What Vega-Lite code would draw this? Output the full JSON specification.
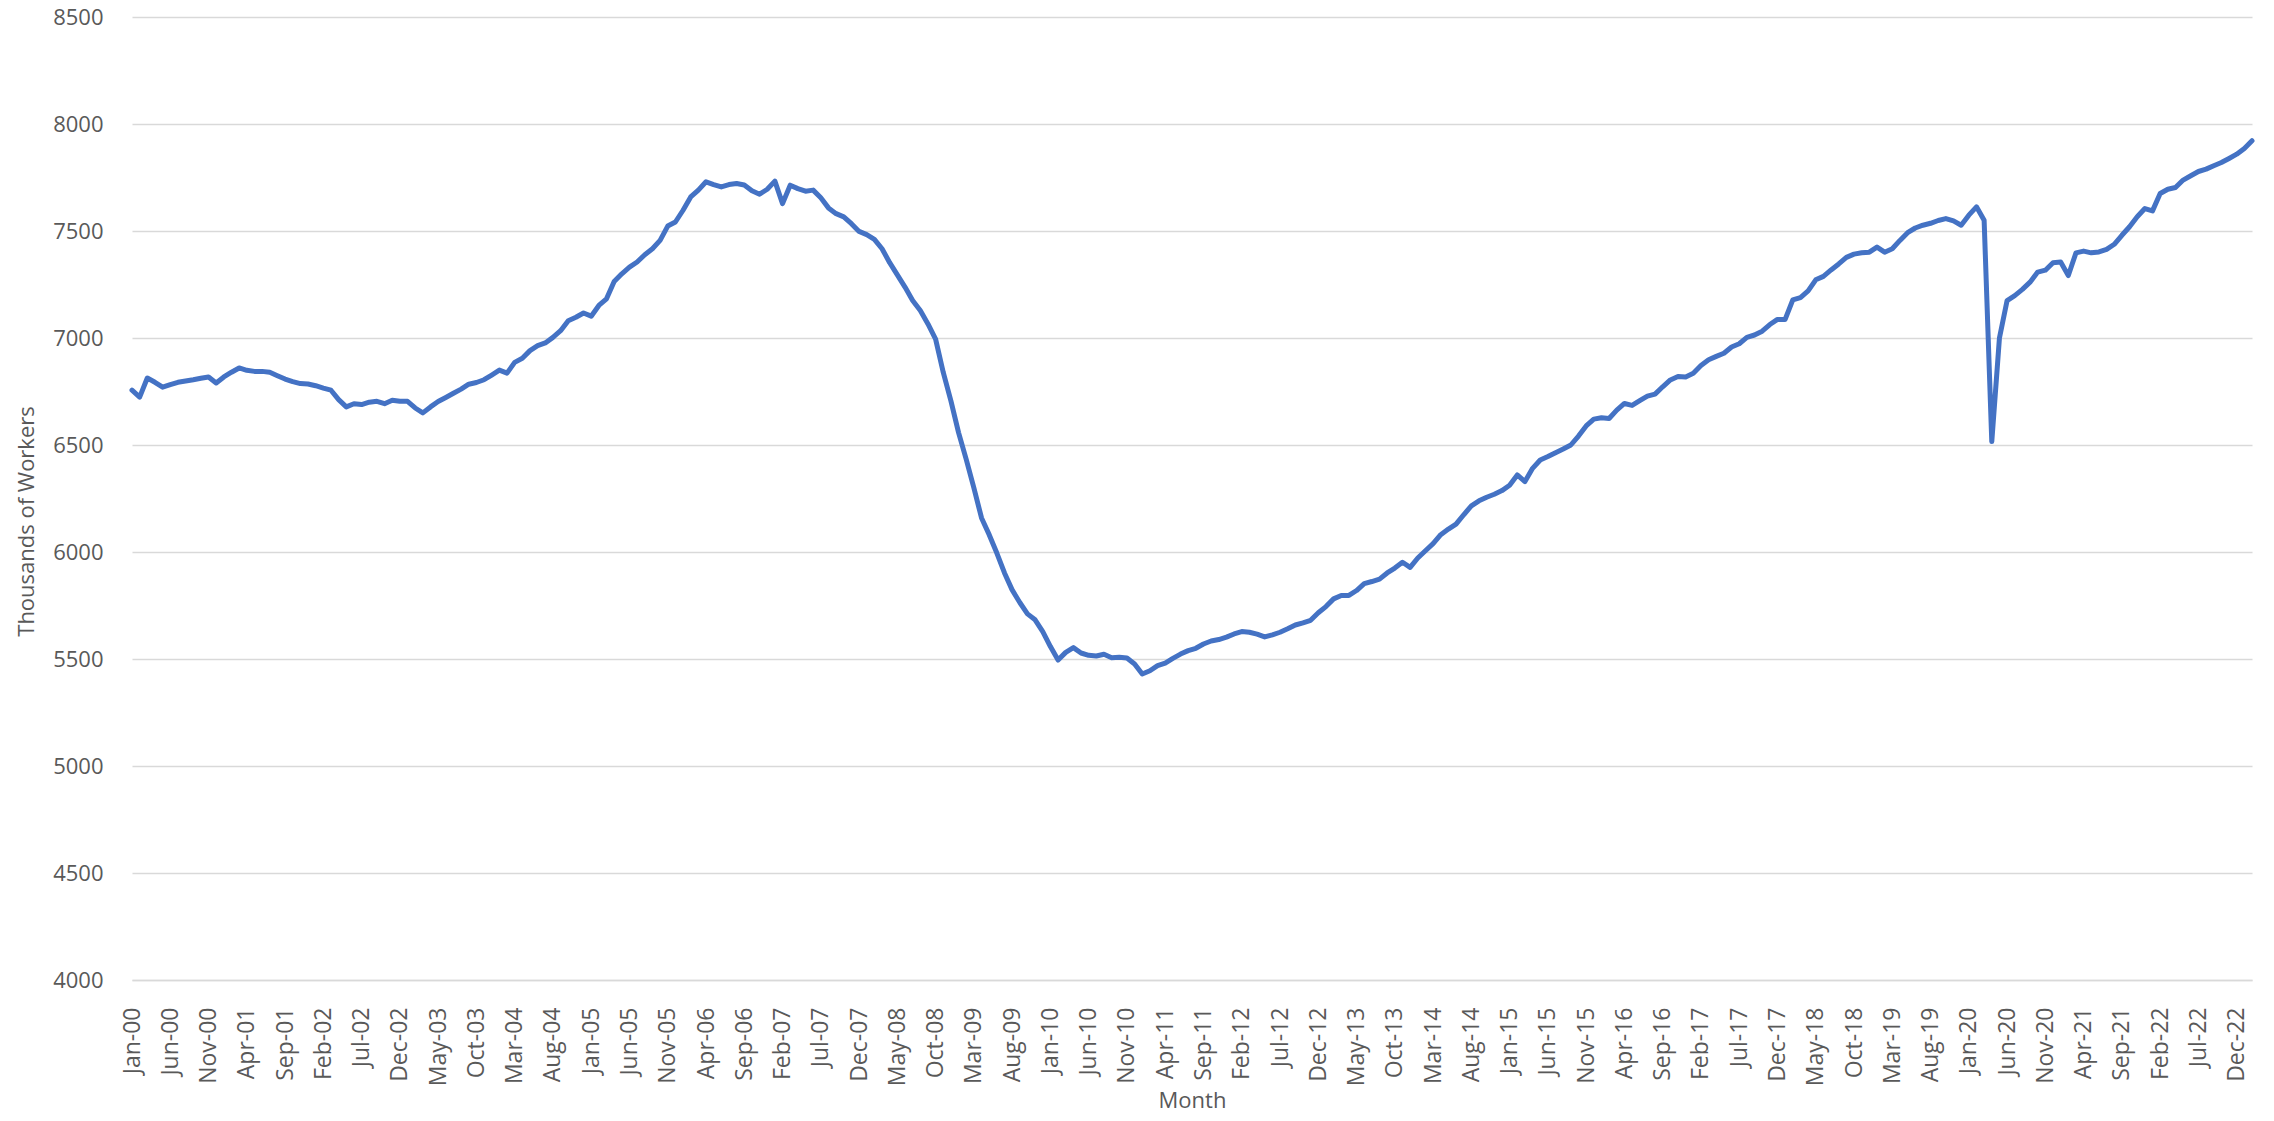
{
  "$schema": "https://vega.github.io/schema/vega-lite/v6.json",
  "width": 2120,
  "height": 963,
  "autosize": "none",
  "padding": {"left": 132, "top": 17, "right": 22, "bottom": 141},
  "background": "white",
  "config": {"view": {"stroke": null}, "font": "Open Sans"},
  "data": {"values": [
    {"month":"Jan-00","workers":6756},{"month":"Feb-00","workers":6724},{"month":"Mar-00","workers":6813},{"month":"Apr-00","workers":6793},{"month":"May-00","workers":6770},{"month":"Jun-00","workers":6782},{"month":"Jul-00","workers":6793},{"month":"Aug-00","workers":6799},{"month":"Sep-00","workers":6805},{"month":"Oct-00","workers":6812},{"month":"Nov-00","workers":6818},{"month":"Dec-00","workers":6790},
    {"month":"Jan-01","workers":6818},{"month":"Feb-01","workers":6840},{"month":"Mar-01","workers":6860},{"month":"Apr-01","workers":6849},{"month":"May-01","workers":6844},{"month":"Jun-01","workers":6844},{"month":"Jul-01","workers":6840},{"month":"Aug-01","workers":6824},{"month":"Sep-01","workers":6808},{"month":"Oct-01","workers":6796},{"month":"Nov-01","workers":6787},{"month":"Dec-01","workers":6785},
    {"month":"Jan-02","workers":6777},{"month":"Feb-02","workers":6766},{"month":"Mar-02","workers":6756},{"month":"Apr-02","workers":6712},{"month":"May-02","workers":6678},{"month":"Jun-02","workers":6693},{"month":"Jul-02","workers":6689},{"month":"Aug-02","workers":6700},{"month":"Sep-02","workers":6704},{"month":"Oct-02","workers":6693},{"month":"Nov-02","workers":6709},{"month":"Dec-02","workers":6704},
    {"month":"Jan-03","workers":6704},{"month":"Feb-03","workers":6673},{"month":"Mar-03","workers":6650},{"month":"Apr-03","workers":6678},{"month":"May-03","workers":6703},{"month":"Jun-03","workers":6722},{"month":"Jul-03","workers":6742},{"month":"Aug-03","workers":6761},{"month":"Sep-03","workers":6784},{"month":"Oct-03","workers":6792},{"month":"Nov-03","workers":6805},{"month":"Dec-03","workers":6827},
    {"month":"Jan-04","workers":6850},{"month":"Feb-04","workers":6836},{"month":"Mar-04","workers":6886},{"month":"Apr-04","workers":6905},{"month":"May-04","workers":6941},{"month":"Jun-04","workers":6964},{"month":"Jul-04","workers":6977},{"month":"Aug-04","workers":7003},{"month":"Sep-04","workers":7034},{"month":"Oct-04","workers":7081},{"month":"Nov-04","workers":7097},{"month":"Dec-04","workers":7117},
    {"month":"Jan-05","workers":7102},{"month":"Feb-05","workers":7152},{"month":"Mar-05","workers":7183},{"month":"Apr-05","workers":7264},{"month":"May-05","workers":7300},{"month":"Jun-05","workers":7331},{"month":"Jul-05","workers":7355},{"month":"Aug-05","workers":7389},{"month":"Sep-05","workers":7417},{"month":"Oct-05","workers":7456},{"month":"Nov-05","workers":7523},{"month":"Dec-05","workers":7542},
    {"month":"Jan-06","workers":7597},{"month":"Feb-06","workers":7659},{"month":"Mar-06","workers":7691},{"month":"Apr-06","workers":7730},{"month":"May-06","workers":7717},{"month":"Jun-06","workers":7706},{"month":"Jul-06","workers":7717},{"month":"Aug-06","workers":7722},{"month":"Sep-06","workers":7715},{"month":"Oct-06","workers":7688},{"month":"Nov-06","workers":7672},{"month":"Dec-06","workers":7695},
    {"month":"Jan-07","workers":7733},{"month":"Feb-07","workers":7628},{"month":"Mar-07","workers":7714},{"month":"Apr-07","workers":7698},{"month":"May-07","workers":7686},{"month":"Jun-07","workers":7691},{"month":"Jul-07","workers":7655},{"month":"Aug-07","workers":7608},{"month":"Sep-07","workers":7581},{"month":"Oct-07","workers":7566},{"month":"Nov-07","workers":7534},{"month":"Dec-07","workers":7498},
    {"month":"Jan-08","workers":7483},{"month":"Feb-08","workers":7461},{"month":"Mar-08","workers":7417},{"month":"Apr-08","workers":7352},{"month":"May-08","workers":7295},{"month":"Jun-08","workers":7238},{"month":"Jul-08","workers":7175},{"month":"Aug-08","workers":7128},{"month":"Sep-08","workers":7066},{"month":"Oct-08","workers":6995},{"month":"Nov-08","workers":6839},{"month":"Dec-08","workers":6706},
    {"month":"Jan-09","workers":6558},{"month":"Feb-09","workers":6433},{"month":"Mar-09","workers":6300},{"month":"Apr-09","workers":6159},{"month":"May-09","workers":6081},{"month":"Jun-09","workers":5995},{"month":"Jul-09","workers":5902},{"month":"Aug-09","workers":5823},{"month":"Sep-09","workers":5764},{"month":"Oct-09","workers":5711},{"month":"Nov-09","workers":5683},{"month":"Dec-09","workers":5628},
    {"month":"Jan-10","workers":5558},{"month":"Feb-10","workers":5495},{"month":"Mar-10","workers":5531},{"month":"Apr-10","workers":5553},{"month":"May-10","workers":5528},{"month":"Jun-10","workers":5517},{"month":"Jul-10","workers":5514},{"month":"Aug-10","workers":5522},{"month":"Sep-10","workers":5506},{"month":"Oct-10","workers":5508},{"month":"Nov-10","workers":5505},{"month":"Dec-10","workers":5477},
    {"month":"Jan-11","workers":5430},{"month":"Feb-11","workers":5445},{"month":"Mar-11","workers":5469},{"month":"Apr-11","workers":5481},{"month":"May-11","workers":5503},{"month":"Jun-11","workers":5523},{"month":"Jul-11","workers":5539},{"month":"Aug-11","workers":5550},{"month":"Sep-11","workers":5570},{"month":"Oct-11","workers":5584},{"month":"Nov-11","workers":5591},{"month":"Dec-11","workers":5602},
    {"month":"Jan-12","workers":5617},{"month":"Feb-12","workers":5628},{"month":"Mar-12","workers":5625},{"month":"Apr-12","workers":5616},{"month":"May-12","workers":5603},{"month":"Jun-12","workers":5613},{"month":"Jul-12","workers":5625},{"month":"Aug-12","workers":5641},{"month":"Sep-12","workers":5659},{"month":"Oct-12","workers":5669},{"month":"Nov-12","workers":5681},{"month":"Dec-12","workers":5716},
    {"month":"Jan-13","workers":5745},{"month":"Feb-13","workers":5781},{"month":"Mar-13","workers":5797},{"month":"Apr-13","workers":5797},{"month":"May-13","workers":5820},{"month":"Jun-13","workers":5852},{"month":"Jul-13","workers":5862},{"month":"Aug-13","workers":5873},{"month":"Sep-13","workers":5902},{"month":"Oct-13","workers":5925},{"month":"Nov-13","workers":5952},{"month":"Dec-13","workers":5928},
    {"month":"Jan-14","workers":5972},{"month":"Feb-14","workers":6006},{"month":"Mar-14","workers":6039},{"month":"Apr-14","workers":6081},{"month":"May-14","workers":6107},{"month":"Jun-14","workers":6130},{"month":"Jul-14","workers":6174},{"month":"Aug-14","workers":6216},{"month":"Sep-14","workers":6239},{"month":"Oct-14","workers":6256},{"month":"Nov-14","workers":6270},{"month":"Dec-14","workers":6287},
    {"month":"Jan-15","workers":6312},{"month":"Feb-15","workers":6360},{"month":"Mar-15","workers":6329},{"month":"Apr-15","workers":6391},{"month":"May-15","workers":6430},{"month":"Jun-15","workers":6446},{"month":"Jul-15","workers":6464},{"month":"Aug-15","workers":6481},{"month":"Sep-15","workers":6500},{"month":"Oct-15","workers":6542},{"month":"Nov-15","workers":6589},{"month":"Dec-15","workers":6621},
    {"month":"Jan-16","workers":6627},{"month":"Feb-16","workers":6624},{"month":"Mar-16","workers":6663},{"month":"Apr-16","workers":6694},{"month":"May-16","workers":6685},{"month":"Jun-16","workers":6707},{"month":"Jul-16","workers":6728},{"month":"Aug-16","workers":6738},{"month":"Sep-16","workers":6772},{"month":"Oct-16","workers":6804},{"month":"Nov-16","workers":6820},{"month":"Dec-16","workers":6818},
    {"month":"Jan-17","workers":6835},{"month":"Feb-17","workers":6871},{"month":"Mar-17","workers":6898},{"month":"Apr-17","workers":6914},{"month":"May-17","workers":6929},{"month":"Jun-17","workers":6958},{"month":"Jul-17","workers":6973},{"month":"Aug-17","workers":7003},{"month":"Sep-17","workers":7014},{"month":"Oct-17","workers":7032},{"month":"Nov-17","workers":7063},{"month":"Dec-17","workers":7087},
    {"month":"Jan-18","workers":7087},{"month":"Feb-18","workers":7178},{"month":"Mar-18","workers":7189},{"month":"Apr-18","workers":7220},{"month":"May-18","workers":7272},{"month":"Jun-18","workers":7288},{"month":"Jul-18","workers":7318},{"month":"Aug-18","workers":7346},{"month":"Sep-18","workers":7377},{"month":"Oct-18","workers":7392},{"month":"Nov-18","workers":7398},{"month":"Dec-18","workers":7401},
    {"month":"Jan-19","workers":7425},{"month":"Feb-19","workers":7401},{"month":"Mar-19","workers":7417},{"month":"Apr-19","workers":7456},{"month":"May-19","workers":7492},{"month":"Jun-19","workers":7514},{"month":"Jul-19","workers":7527},{"month":"Aug-19","workers":7536},{"month":"Sep-19","workers":7549},{"month":"Oct-19","workers":7558},{"month":"Nov-19","workers":7547},{"month":"Dec-19","workers":7527},
    {"month":"Jan-20","workers":7574},{"month":"Feb-20","workers":7613},{"month":"Mar-20","workers":7550},{"month":"Apr-20","workers":6516},{"month":"May-20","workers":7000},{"month":"Jun-20","workers":7175},{"month":"Jul-20","workers":7198},{"month":"Aug-20","workers":7227},{"month":"Sep-20","workers":7261},{"month":"Oct-20","workers":7308},{"month":"Nov-20","workers":7317},{"month":"Dec-20","workers":7352},
    {"month":"Jan-21","workers":7355},{"month":"Feb-21","workers":7292},{"month":"Mar-21","workers":7398},{"month":"Apr-21","workers":7406},{"month":"May-21","workers":7398},{"month":"Jun-21","workers":7402},{"month":"Jul-21","workers":7414},{"month":"Aug-21","workers":7438},{"month":"Sep-21","workers":7480},{"month":"Oct-21","workers":7520},{"month":"Nov-21","workers":7567},{"month":"Dec-21","workers":7605},
    {"month":"Jan-22","workers":7594},{"month":"Feb-22","workers":7675},{"month":"Mar-22","workers":7695},{"month":"Apr-22","workers":7703},{"month":"May-22","workers":7738},{"month":"Jun-22","workers":7758},{"month":"Jul-22","workers":7778},{"month":"Aug-22","workers":7789},{"month":"Sep-22","workers":7805},{"month":"Oct-22","workers":7820},{"month":"Nov-22","workers":7839},{"month":"Dec-22","workers":7859},
    {"month":"Jan-23","workers":7886},{"month":"Feb-23","workers":7922}
  ]},
  "mark": {"type": "line", "color": "#4472C4", "strokeWidth": 5, "strokeJoin": "round", "strokeCap": "round"},
  "encoding": {
    "x": {
      "field": "month",
      "type": "ordinal",
      "sort": null,
      "scale": {"type": "point", "padding": 0},
      "axis": {
        "title": "Month",
        "values": ["Jan-00","Jun-00","Nov-00","Apr-01","Sep-01","Feb-02","Jul-02","Dec-02","May-03","Oct-03","Mar-04","Aug-04","Jan-05","Jun-05","Nov-05","Apr-06","Sep-06","Feb-07","Jul-07","Dec-07","May-08","Oct-08","Mar-09","Aug-09","Jan-10","Jun-10","Nov-10","Apr-11","Sep-11","Feb-12","Jul-12","Dec-12","May-13","Oct-13","Mar-14","Aug-14","Jan-15","Jun-15","Nov-15","Apr-16","Sep-16","Feb-17","Jul-17","Dec-17","May-18","Oct-18","Mar-19","Aug-19","Jan-20","Jun-20","Nov-20","Apr-21","Sep-21","Feb-22","Jul-22","Dec-22"],
        "labelAngle": -90,
        "labelFontSize": 23,
        "labelColor": "#595959",
        "labelPadding": 27,
        "labelOverlap": false,
        "ticks": false,
        "domain": true,
        "domainColor": "#d9d9d9",
        "domainWidth": 1.5,
        "titleFontSize": 22,
        "titleFontWeight": "normal",
        "titleColor": "#595959",
        "titlePadding": 5
      }
    },
    "y": {
      "field": "workers",
      "type": "quantitative",
      "scale": {"domain": [4000, 8500], "nice": false, "zero": false},
      "axis": {
        "title": "Thousands of Workers",
        "values": [4000, 4500, 5000, 5500, 6000, 6500, 7000, 7500, 8000, 8500],
        "format": "d",
        "grid": true,
        "gridColor": "#d9d9d9",
        "gridWidth": 1.5,
        "domain": false,
        "ticks": false,
        "labelFontSize": 22,
        "labelColor": "#595959",
        "labelPadding": 29,
        "titleFontSize": 22,
        "titleFontWeight": "normal",
        "titleColor": "#595959",
        "titlePadding": 14,
        "titleY": 504
      }
    }
  }
}
